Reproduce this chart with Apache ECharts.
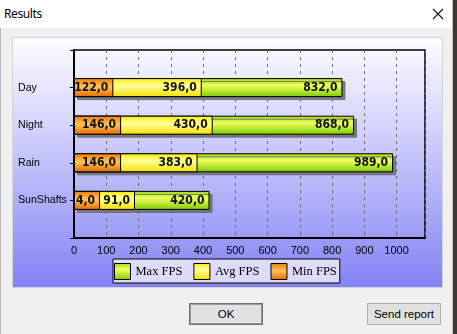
<!DOCTYPE html>
<html><head><meta charset="utf-8">
<script src="https://cdn.jsdelivr.net/npm/echarts@6/dist/echarts.min.js"></script>
<style>
html,body{margin:0;padding:0;width:457px;height:334px;overflow:hidden;background:#f0f0f0;font-family:'Noto Sans','Liberation Sans',sans-serif;}
#titlebar{position:absolute;left:0;top:0;width:452px;height:28px;background:#fff;}
#titlebar .t{position:absolute;left:4px;top:5px;font-size:12px;letter-spacing:-0.4px;color:#000;}
#titlebar svg{position:absolute;left:432px;top:8px;}
#edge{position:absolute;left:452px;top:0;width:1px;height:334px;background:#c4c4c4;}
#outside{position:absolute;left:453px;top:0;width:4px;height:334px;background:#3e3730;}
#leftedge{position:absolute;left:0;top:0;width:1px;height:334px;background:#b8b8b8;}
#panel{position:absolute;left:13px;top:38px;width:429px;height:249px;background:linear-gradient(to bottom,#fdfdff 0%,#c8c8fb 45%,#8383f4 100%);}
#panelborder{position:absolute;left:12px;top:37px;width:429px;height:249px;border:1px solid #d4d4d4;}
.btn{position:absolute;top:303px;width:72px;height:20px;background:#e1e1e1;border:1px solid #adadad;font-family:'Liberation Sans',sans-serif;font-size:11.5px;color:#000;text-align:center;line-height:20px;}
#ok{left:189px;border:1px solid #6f6f6f;box-shadow:inset 0 0 0 1px #9a9a9a;}
#send{left:367px;}
</style></head>
<body>
<div id="leftedge"></div>
<div id="titlebar"><span class="t">Results</span>
<svg width="12" height="12" viewBox="0 0 12 12"><path d="M1 1 L11 11 M11 1 L1 11" stroke="#111" stroke-width="1.1" fill="none"/></svg></div>
<div id="panelborder"></div>
<div id="panel"></div>
<div id="edge"></div><div id="outside"></div>
<div class="btn" id="ok">OK</div>
<div class="btn" id="send">Send report</div>
<script>
// ---- data ----
const categories = ['Day', 'Night', 'Rain', 'SunShafts'];
const seriesNames = ['Max FPS', 'Avg FPS', 'Min FPS'];
const maxFps = [832.0, 868.0, 989.0, 420.0];
const avgFps = [396.0, 430.0, 383.0, 91.0];
const minFps = [122.0, 146.0, 146.0, 4.0];
const xAxisMax = 1088;   // 989 * 1.1
const xAxisStep = 100;

// ---- chart ----
const yCats = [''].concat(categories, ['']);
const pad = arr => [null].concat(arr, [null]);
const grad = stops => new echarts.graphic.LinearGradient(0, 0, 0, 1, stops.map(s => ({offset: s[0], color: s[1]})));
const fmt = p => (p.value == null ? '' : p.value.toFixed(1).replace('.', ','));
const labelStyle = {
  show: true, position: 'insideRight', distance: 5, formatter: fmt,
  fontFamily: "'DejaVu Sans Condensed','Liberation Sans',sans-serif",
  fontWeight: 'bold', fontSize: 12, color: '#111'
};
const chart = echarts.init(document.getElementById('panel'), null, {renderer: 'canvas'});
chart.setOption({
  backgroundColor: 'transparent',
  animation: false,
  grid: {left: 61, top: 12, width: 351, height: 188, show: true, borderColor: '#000', borderWidth: 1.5,
         backgroundColor: 'transparent', containLabel: false, outerBoundsMode: 'none'},
  legend: {
    left: 100, top: 221, orient: 'horizontal',
    data: seriesNames,
    icon: 'rect', itemWidth: 16, itemHeight: 16, itemGap: 11,
    padding: [4, 3, 3, 1],
    backgroundColor: '#dcdcfa', borderColor: '#000', borderWidth: 1, borderRadius: 0,
    itemStyle: {borderColor: '#000', borderWidth: 1, shadowColor: 'rgba(0,0,0,0)', shadowOffsetX: 0, shadowOffsetY: 0},
    textStyle: {fontFamily: "'Liberation Serif',serif", fontSize: 12.5, color: '#000'}
  },
  xAxis: {
    type: 'value', min: 0, max: xAxisMax, interval: xAxisStep,
    axisLine: {show: true, onZero: false, lineStyle: {color: '#000', width: 2}},
    axisTick: {show: false},
    axisLabel: {color: '#000', fontSize: 11, fontFamily: "'Liberation Sans',sans-serif", margin: 7, showMaxLabel: false,
                formatter: v => (v % xAxisStep === 0 ? String(v) : '')},
    splitLine: {show: true, lineStyle: {color: '#6e6e6e', width: 1, type: [3, 4]}}
  },
  yAxis: {
    type: 'category', data: yCats, inverse: true, boundaryGap: false,
    axisLine: {show: true, lineStyle: {color: '#000', width: 2}},
    axisTick: {show: true, length: 4, lineStyle: {color: '#000', width: 1}},
    axisLabel: {align: 'left', margin: 56, color: '#000', fontSize: 10.6, fontFamily: "'Liberation Sans',sans-serif", interval: 0},
    splitLine: {show: false}
  },
  series: [
    {name: seriesNames[0], type: 'bar', data: pad(maxFps), barWidth: 19, barGap: '-100%', z: 2,
     itemStyle: {color: grad([[0, '#9ede00'], [0.38, '#f0ff62'], [1, '#7acb00']]), borderColor: '#000', borderWidth: 1,
                 shadowColor: 'rgba(110,110,120,0.9)', shadowBlur: 0, shadowOffsetX: 3, shadowOffsetY: 3},
     label: labelStyle},
    {name: seriesNames[1], type: 'bar', data: pad(avgFps), barWidth: 19, barGap: '-100%', z: 3, barMinHeight: 61,
     itemStyle: {color: grad([[0, '#fbeb00'], [0.4, '#ffff9a'], [1, '#f2de00']]), borderColor: '#000', borderWidth: 1},
     label: labelStyle},
    {name: seriesNames[2], type: 'bar', data: pad(minFps), barWidth: 19, barGap: '-100%', z: 4, barMinHeight: 26,
     itemStyle: {color: grad([[0, '#f07800'], [0.45, '#ffc458'], [1, '#e46800']]), borderColor: '#000', borderWidth: 1},
     label: labelStyle}
  ]
});
</script>
</body></html>
